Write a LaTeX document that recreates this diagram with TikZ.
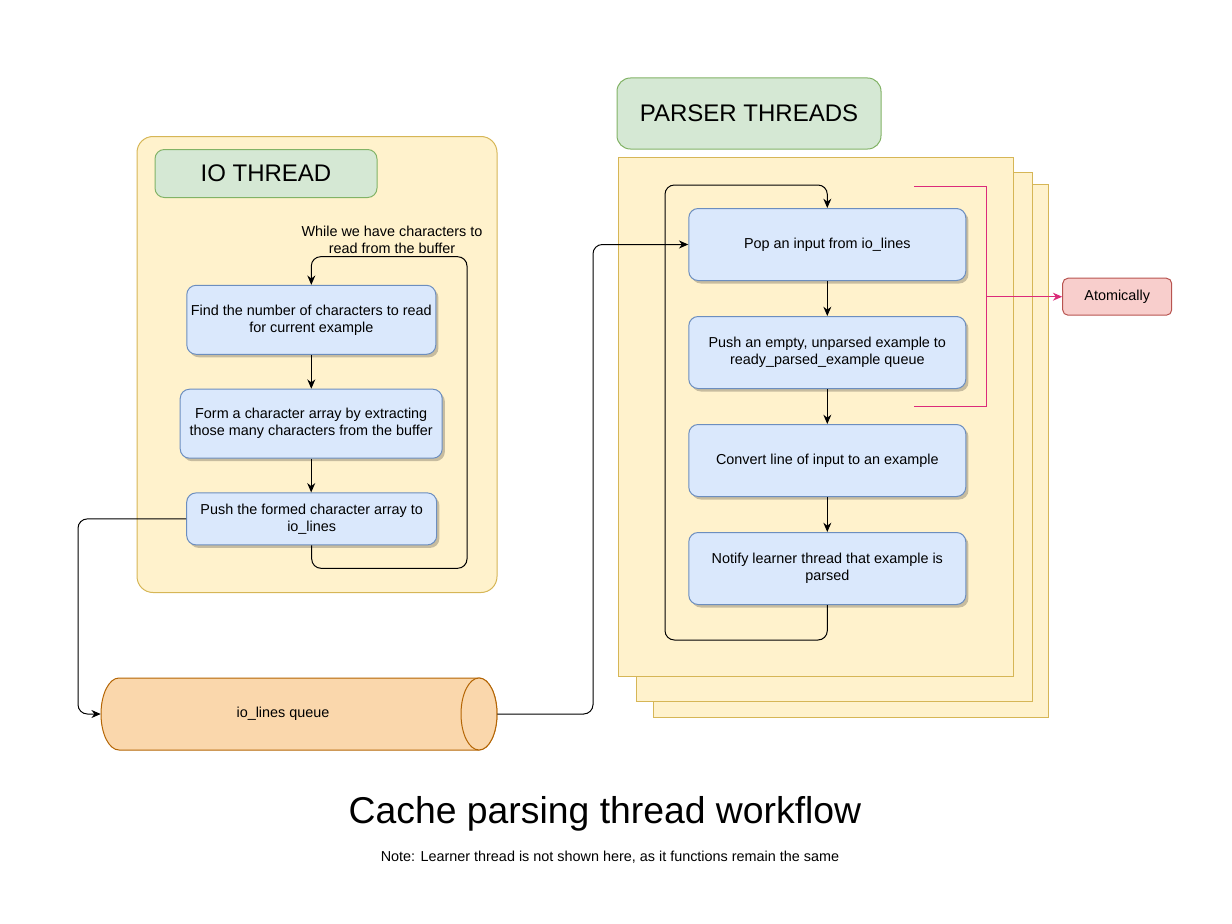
\documentclass[tikz,border=0pt]{standalone}
\usepackage{fontspec}
\setmainfont{Liberation Sans}
\usetikzlibrary{arrows.meta,shapes.geometric,shadows}
\definecolor{yfill}{HTML}{FFF2CC}
\definecolor{ystroke}{HTML}{D6B656}
\definecolor{gfill}{HTML}{D5E8D4}
\definecolor{gstroke}{HTML}{82B366}
\definecolor{bfill}{HTML}{DAE8FC}
\definecolor{bstroke}{HTML}{6C8EBF}
\definecolor{rfill}{HTML}{F8CECC}
\definecolor{rstroke}{HTML}{B85450}
\definecolor{ofill}{HTML}{FAD7AC}
\definecolor{ostroke}{HTML}{B46504}
\definecolor{pinkline}{HTML}{DB2B7A}
\tikzset{
  sz/.style 2 args={minimum width=#1*0.75pt, minimum height=#2*0.75pt},
  base/.style={inner sep=0pt, align=center, font=\fontsize{10.8}{12.75}\selectfont},
  container/.style={base, draw=ystroke, fill=yfill, line width=0.75pt},
  label/.style={base, draw=gstroke, fill=gfill, line width=0.75pt, rounded corners=7pt, font=\fontsize{18}{22}\selectfont},
  stepbox/.style={base, draw=bstroke, fill=bfill, line width=0.75pt, rounded corners=7pt,
    drop shadow={shadow xshift=2pt, shadow yshift=-2.25pt, fill=black, opacity=0.22}},
  atombox/.style={base, draw=rstroke, fill=rfill, line width=0.75pt, rounded corners=4pt},
  arr/.style={draw=black, line width=0.75pt, -{Stealth[length=7pt,width=6pt]}, rounded corners=7pt},
  pinkl/.style={draw=pinkline, line width=0.75pt},
  cyl/.style={draw=ostroke, fill=ofill, line width=0.75pt},
}
\begin{document}
\begin{tikzpicture}[x=0.75pt,y=-0.75pt]
\path[use as bounding box] (0,0) rectangle (1232,924);

% ---------------- IO thread ----------------
\node[container, rounded corners=12pt, sz={360}{456}] (io) at (317,364.5) {};
\node[label, sz={222}{48}] (iolab) at (266,173.5) {IO THREAD};
\node[base] (while) at (392,239.5) {While we have characters to\\read from the buffer};
\node[stepbox, sz={249}{69}] (b1) at (311.3,319.8) {Find the number of characters to read\\for current example};
\node[stepbox, sz={262}{69}] (b2) at (311.2,423.7) {Form a character array by extracting\\those many characters from the buffer};
\node[stepbox, sz={250}{52}] (b3) at (311.7,518.9) {Push the formed character array to\\io\_lines};

\draw[arr] (b1.south) -- (b1.south |- b2.north);
\draw[arr] (b2.south) -- (b2.south |- b3.north);
\coordinate (ioBR) at (467,568.3);
\coordinate (ioTR) at (467,256.7);
\draw[arr] (b3.south) -- (b3.south |- ioBR) -- (ioBR) -- (ioTR) -- (b1.north |- ioTR) -- (b1.north);

% ---------------- parser threads ----------------
\node[container, sz={395}{533}] (st3) at (850.5,450.7) {};
\node[container, sz={396}{529}] (st2) at (834,436.5) {};
\node[container, sz={395}{519}] (st1) at (815.5,417.3) {};
\node[label, sz={264}{71}, rounded corners=10pt] (plab) at (749,113.5) {PARSER THREADS};

\node[stepbox, sz={277}{72}] (pop) at (827.3,244.5) {Pop an input from io\_lines};
\node[stepbox, sz={277}{72}] (push) at (827.3,352.5) {Push an empty, unparsed example to\\ready\_parsed\_example queue};
\node[stepbox, sz={277}{72}] (conv) at (827.3,460.5) {Convert line of input to an example};
\node[stepbox, sz={277}{72}] (notify) at (827.3,568.5) {Notify learner thread that example is\\parsed};

\draw[arr] (pop.south) -- (push.north);
\draw[arr] (push.south) -- (conv.north);
\draw[arr] (conv.south) -- (notify.north);
\coordinate (pB) at (665,640);
\coordinate (pT) at (665,185);
\draw[arr] (notify.south) |- (pB) -- (pT) -| (pop.north);

% ---------------- queue (horizontal cylinder) ----------------
\node[inner sep=0pt, sz={396}{72}] (q) at (299,714) {};
\draw[cyl] (119,678) -- (479,678)
  arc[start angle=-90, end angle=90, x radius=18, y radius=36]
  -- (119,750)
  arc[start angle=90, end angle=270, x radius=18, y radius=36] -- cycle;
\draw[cyl] (479,714) ellipse [x radius=18, y radius=36];
\node[base] (qtext) at (283,714) {io\_lines queue};

\coordinate (qL) at (78,714);
\draw[arr] (b3.west) -| (qL) -- (q.west);
\coordinate (qR) at (593,714);
\draw[arr] (q.east) -- (qR) |- (pop.west);

% ---------------- atomically ----------------
\node[atombox, sz={109}{37}] (atom) at (1117.2,296.7) {Atomically};
\coordinate (k1) at (914,186);
\coordinate (k2) at (986.7,186);
\coordinate (k3) at (986.7,406.7);
\coordinate (k4) at (914,406.7);
\coordinate (km) at (986.7,296.7);
\draw[pinkl] (k1) -- (k2) -- (k3) -- (k4);
\draw[pinkl, -{Stealth[length=7pt,width=6pt]}] (km) -- (atom.west);

% ---------------- captions ----------------
\node[base, font=\fontsize{28}{32}\selectfont] (title) at (605,814) {Cache parsing thread workflow};
\node[base] (note) at (610,857) {Note: Learner thread is not shown here, as it functions remain the same};
\end{tikzpicture}
\end{document}
